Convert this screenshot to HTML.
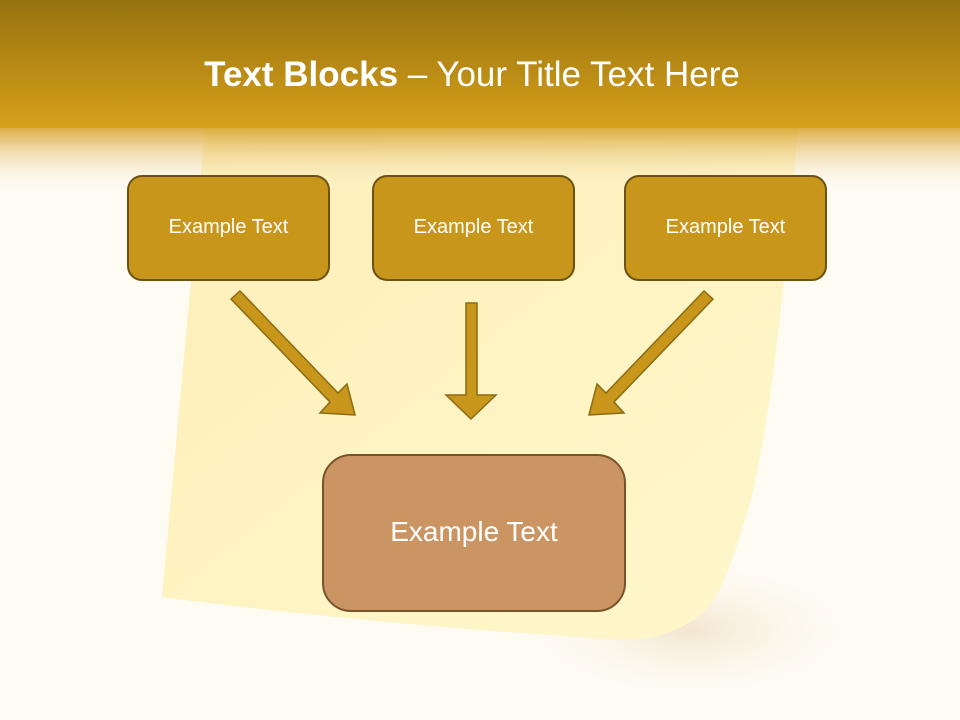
<!DOCTYPE html>
<html><head><meta charset="utf-8"><style>
html,body{margin:0;padding:0}
body{width:960px;height:720px;position:relative;overflow:hidden;background:#fefbf3;font-family:"Liberation Sans","DejaVu Sans",sans-serif}
svg{position:absolute;left:0;top:0}
.t{position:absolute;color:#fff;text-align:center}
</style></head><body>
<svg width="960" height="720" viewBox="0 0 960 720">
<defs>
<linearGradient id="hd" x1="0" y1="0" x2="0" y2="1">
<stop offset="0" stop-color="#97720f"/><stop offset="1" stop-color="#d6a01a"/>
</linearGradient>
<linearGradient id="fade" x1="0" y1="0" x2="0" y2="1">
<stop offset="0" stop-color="#d9a530" stop-opacity="0.9"/><stop offset="1" stop-color="#fefbf3" stop-opacity="0"/>
</linearGradient>
<linearGradient id="note" x1="0" y1="0" x2="1" y2="1">
<stop offset="0" stop-color="#fdeeb8"/><stop offset="1" stop-color="#fff8cc"/>
</linearGradient>
<radialGradient id="sh" cx="0.5" cy="0.5" r="0.5">
<stop offset="0" stop-color="#efe0c4" stop-opacity="0.8"/><stop offset="1" stop-color="#fefbf3" stop-opacity="0"/>
</radialGradient>
</defs>
<ellipse cx="690" cy="630" rx="170" ry="70" fill="url(#sh)"/>
<path d="M205 128 L798 128 C785 280 770 440 745 520 C728 575 718 600 700 615 C680 630 660 638 630 640 C480 632 300 615 162 597 Z" fill="url(#note)"/>
<rect x="0" y="0" width="960" height="128" fill="url(#hd)"/>
<rect x="0" y="128" width="960" height="65" fill="url(#fade)"/>
<g fill="#c9961c" stroke="#6b5213" stroke-width="2">
<rect x="128" y="176" width="201" height="104" rx="14"/>
<rect x="373" y="176" width="201" height="104" rx="14"/>
<rect x="625" y="176" width="201" height="104" rx="14"/>
</g>
<g fill="#c9961c" stroke="#8a6a12" stroke-width="1.5">
<path d="M231 299 L240 291 L338 393 L347 384 L355 415 L320 413 L330 402 Z"/>
<path d="M466 303 L477 303 L477 395 L496 395 L471 419 L446 395 L466 395 Z"/>
<path d="M713 299 L704 291 L606 393 L597 384 L589 415 L624 413 L614 402 Z"/>
</g>
<rect x="323" y="455" width="302" height="156" rx="28" fill="#cb9563" stroke="#7a5228" stroke-width="2"/>
</svg>
<div class="t" style="left:0;top:55px;width:944px;font-size:35px;line-height:40px"><b>Text Blocks</b> – Your Title Text Here</div>
<div class="t" style="left:128px;top:216px;width:201px;font-size:20px">Example Text</div>
<div class="t" style="left:373px;top:216px;width:201px;font-size:20px">Example Text</div>
<div class="t" style="left:625px;top:216px;width:201px;font-size:20px">Example Text</div>
<div class="t" style="left:323px;top:516px;width:302px;font-size:28px">Example Text</div>
</body></html>
